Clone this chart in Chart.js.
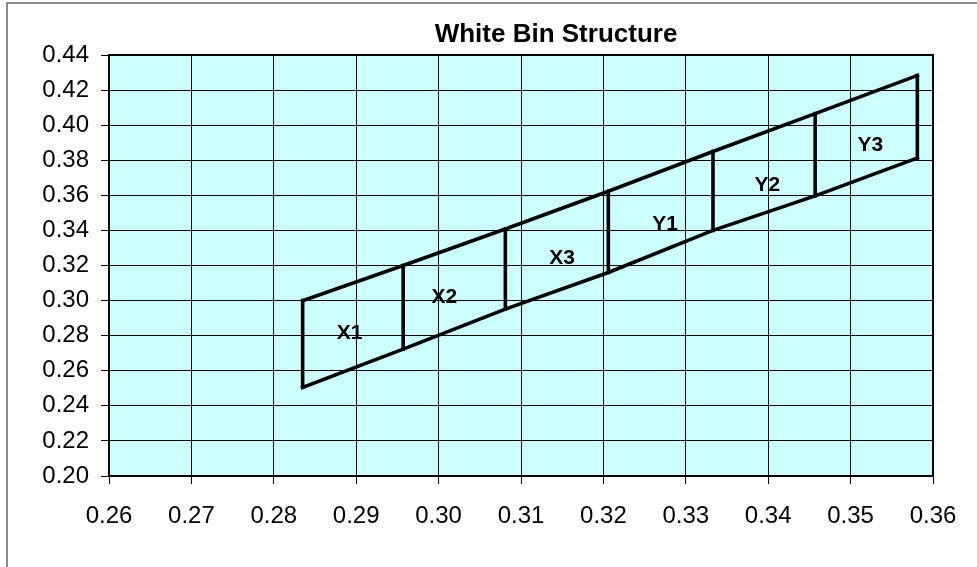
<!DOCTYPE html>
<html>
<head>
<meta charset="utf-8">
<script src="https://cdn.jsdelivr.net/npm/chart.js@4/dist/chart.umd.min.js"></script>
<style>
html,body{margin:0;padding:0;background:#fff;}
#wrap{position:absolute;left:0;top:0;width:977px;height:567px;}
</style>
</head>
<body>
<div id="wrap"><canvas id="c" width="977" height="567"></canvas></div>
<script>
// ---- data ----
const binX      = [0.2835, 0.2957, 0.3081, 0.3206, 0.3333, 0.3457, 0.3581];
const upperY    = [0.3000, 0.3200, 0.3408, 0.3623, 0.3850, 0.4066, 0.4283];
const lowerY    = [0.2505, 0.2723, 0.2951, 0.3160, 0.3400, 0.3597, 0.3813];
const binNames  = ['X1', 'X2', 'X3', 'Y1', 'Y2', 'Y3'];
const binLabelX = [0.2892, 0.3007, 0.3150, 0.3275, 0.3399, 0.3524];
const binLabelY = [0.2816, 0.3022, 0.3244, 0.3438, 0.3655, 0.3884];
const xTickValues = [0.26, 0.27, 0.28, 0.29, 0.30, 0.31, 0.32, 0.33, 0.34, 0.35, 0.36];
const xTickLabels = ['0.26','0.27','0.28','0.29','0.30','0.31','0.32','0.33','0.34','0.35','0.36'];
const yTickValues = [0.20, 0.22, 0.24, 0.26, 0.28, 0.30, 0.32, 0.34, 0.36, 0.38, 0.40, 0.42, 0.44];
const yTickLabels = ['0.20','0.22','0.24','0.26','0.28','0.30','0.32','0.34','0.36','0.38','0.40','0.42','0.44'];
const chartTitle = 'White Bin Structure';

const FONT = "'Liberation Sans', Arial, sans-serif";

const lineStyle = {showLine:true, borderColor:'#000', borderWidth:3.6, pointRadius:0, fill:false, tension:0, borderCapStyle:'square'};
const datasets = [];
datasets.push(Object.assign({label:'upper', data: binX.map((x,i)=>({x:x, y:upperY[i]}))}, lineStyle));
datasets.push(Object.assign({label:'lower', data: binX.map((x,i)=>({x:x, y:lowerY[i]}))}, lineStyle));
binX.forEach((x,i)=>{
  datasets.push(Object.assign({label:'v'+i, data:[{x:x,y:lowerY[i]},{x:x,y:upperY[i]}]}, lineStyle));
});

const decor = {
  id:'decor',
  beforeDraw(chart){
    const ctx = chart.ctx, a = chart.chartArea;
    ctx.save();
    ctx.fillStyle = '#fff';
    ctx.fillRect(0,0,chart.width,chart.height);
    // outer frame
    ctx.strokeStyle = '#666';
    ctx.lineWidth = 1.5;
    ctx.beginPath();
    ctx.moveTo(7, chart.height+5);
    ctx.lineTo(7, 3);
    ctx.lineTo(chart.width+5, 3);
    ctx.stroke();
    // plot background
    ctx.fillStyle = '#CCFFFF';
    ctx.fillRect(a.left, a.top, a.right-a.left, a.bottom-a.top);
    ctx.restore();
  },
  afterDraw(chart){
    const ctx = chart.ctx, a = chart.chartArea;
    const xs = chart.scales.x, ys = chart.scales.y;
    ctx.save();
    ctx.strokeStyle = '#000';
    ctx.lineWidth = 2;
    ctx.strokeRect(a.left, a.top, a.right-a.left, a.bottom-a.top);
    // bin labels
    ctx.fillStyle = '#000';
    ctx.font = 'bold 21px ' + FONT;
    ctx.textAlign = 'center';
    ctx.textBaseline = 'middle';
    binNames.forEach((n,i)=>{
      ctx.fillText(n, xs.getPixelForValue(binLabelX[i]), ys.getPixelForValue(binLabelY[i]));
    });
    // title
    ctx.font = 'bold 26px ' + FONT;
    ctx.textBaseline = 'alphabetic';
    ctx.fillText(chartTitle, 556, 42);
    ctx.restore();
  }
};

new Chart(document.getElementById('c'), {
  type:'scatter',
  data:{datasets},
  options:{
    responsive:false,
    animation:false,
    layout:{padding:{left:0, right:44, top:55, bottom:0}},
    plugins:{legend:{display:false}, title:{display:false}, tooltip:{enabled:false}},
    scales:{
      x:{
        type:'linear', min:0.26, max:0.36,
        afterBuildTicks(s){ s.ticks = xTickValues.map(v=>({value:v})); },
        afterFit(s){ s.height = 91; },
        ticks:{
          color:'#000', font:{family:FONT, size:24}, padding:18, maxRotation:0, autoSkip:false,
          callback:(v,i)=>xTickLabels[i]
        },
        grid:{color:'#000', lineWidth:1, tickLength:8, drawTicks:true},
        border:{color:'#000', width:2}
      },
      y:{
        type:'linear', min:0.20, max:0.44,
        afterBuildTicks(s){ s.ticks = yTickValues.map(v=>({value:v})); },
        afterFit(s){ s.width = 109; },
        ticks:{
          color:'#000', font:{family:FONT, size:24}, padding:12, autoSkip:false,
          callback:(v,i)=>yTickLabels[i]
        },
        grid:{color:'#000', lineWidth:1, tickLength:8, drawTicks:true},
        border:{color:'#000', width:2}
      }
    }
  },
  plugins:[decor]
});
</script>
</body>
</html>
